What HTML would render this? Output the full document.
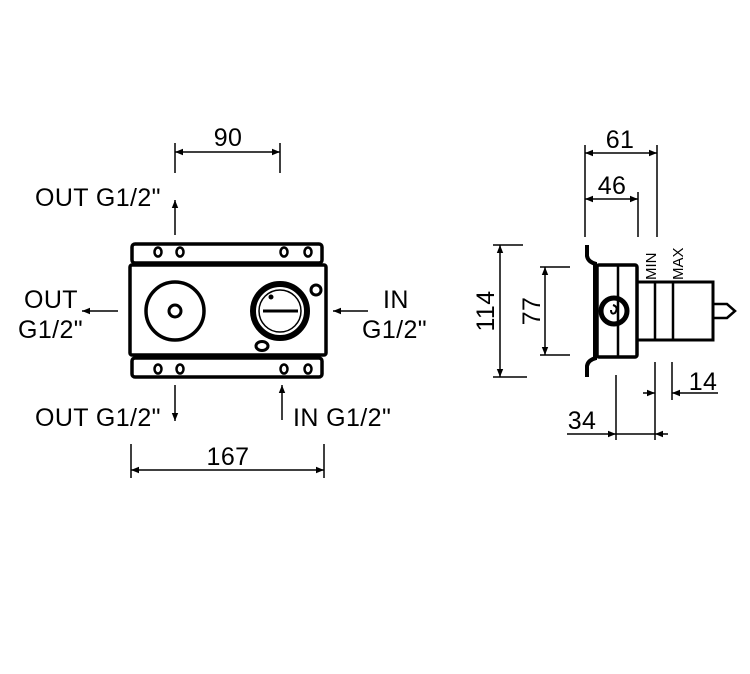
<!DOCTYPE html>
<html><head><meta charset="utf-8"><style>
html,body{margin:0;padding:0;background:#fff;}
svg{display:block;}
text{font-family:"Liberation Sans",Arial,sans-serif;fill:#000;}
</style></head><body>
<svg width="750" height="674" viewBox="0 0 750 674" xmlns="http://www.w3.org/2000/svg">
<defs>
<marker id="a" viewBox="0 0 10 10" refX="10" refY="5" markerWidth="12" markerHeight="8" orient="auto-start-reverse" markerUnits="userSpaceOnUse"><path d="M0,1 L10,5 L0,9 z" fill="#000"/></marker>
</defs>
<g stroke="#000" fill="none">
<rect x="132" y="244" width="190" height="19" rx="3" stroke-width="3.5"/>
<rect x="130" y="265" width="196" height="90" rx="2" stroke-width="3.5"/>
<rect x="132" y="358" width="190" height="19" rx="3" stroke-width="3.5"/>
<g stroke-width="2.5">
<ellipse cx="158" cy="252" rx="3.5" ry="4.5"/><ellipse cx="180" cy="252" rx="3.5" ry="4.5"/><ellipse cx="284" cy="252" rx="3.5" ry="4.5"/><ellipse cx="308" cy="252" rx="3.5" ry="4.5"/>
<ellipse cx="158" cy="369" rx="3.5" ry="4.5"/><ellipse cx="180" cy="369" rx="3.5" ry="4.5"/><ellipse cx="284" cy="369" rx="3.5" ry="4.5"/><ellipse cx="308" cy="369" rx="3.5" ry="4.5"/>
</g>
<circle cx="175" cy="311" r="29" stroke-width="3.5"/>
<circle cx="175" cy="311" r="6" stroke-width="3"/>
<circle cx="280" cy="311" r="27" stroke-width="6"/>
<circle cx="280" cy="311" r="21" stroke-width="1.5"/>
<line x1="263" y1="311" x2="298" y2="311" stroke-width="3"/>
<circle cx="271" cy="297" r="2" fill="#000" stroke-width="1"/>
<circle cx="316" cy="290" r="5" stroke-width="3"/>
<ellipse cx="262" cy="346" rx="6" ry="4.5" stroke-width="3"/>
<g stroke-width="1.5">
<line x1="175" y1="235" x2="175" y2="200" marker-end="url(#a)"/>
<line x1="118" y1="311" x2="82" y2="311" marker-end="url(#a)"/>
<line x1="368" y1="311" x2="333" y2="311" marker-end="url(#a)"/>
<line x1="175" y1="385" x2="175" y2="421" marker-end="url(#a)"/>
<line x1="282" y1="420" x2="282" y2="385" marker-end="url(#a)"/>
<line x1="175" y1="143" x2="175" y2="173"/><line x1="280" y1="143" x2="280" y2="173"/>
<line x1="175" y1="152" x2="280" y2="152" marker-start="url(#a)" marker-end="url(#a)"/>
<line x1="131" y1="444" x2="131" y2="478"/><line x1="324" y1="444" x2="324" y2="478"/>
<line x1="131" y1="470" x2="324" y2="470" marker-start="url(#a)" marker-end="url(#a)"/>
<line x1="493" y1="245" x2="523" y2="245"/><line x1="493" y1="377" x2="527" y2="377"/>
<line x1="500" y1="245" x2="500" y2="377" marker-start="url(#a)" marker-end="url(#a)"/>
<line x1="540" y1="267" x2="570" y2="267"/><line x1="540" y1="355" x2="570" y2="355"/>
<line x1="545" y1="267" x2="545" y2="355" marker-start="url(#a)" marker-end="url(#a)"/>
<line x1="585" y1="145" x2="585" y2="237"/><line x1="657" y1="145" x2="657" y2="237"/><line x1="638" y1="192" x2="638" y2="237"/>
<line x1="585" y1="153" x2="657" y2="153" marker-start="url(#a)" marker-end="url(#a)"/>
<line x1="585" y1="199" x2="638" y2="199" marker-start="url(#a)" marker-end="url(#a)"/>
<line x1="655" y1="362" x2="655" y2="440"/><line x1="672" y1="362" x2="672" y2="400"/><line x1="616" y1="375" x2="616" y2="440"/>
<line x1="643" y1="393" x2="655" y2="393" marker-end="url(#a)"/>
<line x1="718" y1="393" x2="672" y2="393" marker-end="url(#a)"/>
<line x1="567" y1="434" x2="616" y2="434" marker-end="url(#a)"/>
<line x1="668" y1="434" x2="655" y2="434" marker-end="url(#a)"/>
<line x1="616" y1="434" x2="655" y2="434"/>
</g>
<path d="M587,245 L587,256 Q588,262 596,264 M587,377 L587,366 Q588,360 596,358" stroke-width="4"/>
<line x1="595" y1="262" x2="595" y2="360" stroke-width="4"/>
<rect x="597" y="265" width="40" height="92" rx="2" stroke-width="3.5"/>
<line x1="618" y1="265" x2="618" y2="357" stroke-width="2.5"/>
<circle cx="614" cy="311" r="13" stroke-width="5"/>
<path d="M613,305 q6,2 2,8 q-4,2 -4,-3" stroke-width="2"/>
<rect x="637" y="282" width="76" height="58" stroke-width="3"/>
<line x1="655" y1="282" x2="655" y2="340" stroke-width="2.5"/>
<line x1="673" y1="282" x2="673" y2="340" stroke-width="2.5"/>
<path d="M713,304 L727,304 L735,311 L727,318 L713,318" stroke-width="2.5"/>
</g>
<g font-size="25" letter-spacing="0.4">
<text x="35" y="206">OUT G1/2"</text>
<text x="24" y="308">OUT</text>
<text x="18" y="338">G1/2"</text>
<text x="383" y="308">IN</text>
<text x="362" y="338">G1/2"</text>
<text x="35" y="426">OUT G1/2"</text>
<text x="293" y="426">IN G1/2"</text>
<text x="228" y="146" text-anchor="middle">90</text>
<text x="228" y="465" text-anchor="middle">167</text>
<text x="620" y="148" text-anchor="middle">61</text>
<text x="612" y="194" text-anchor="middle">46</text>
<text x="703" y="390" text-anchor="middle">14</text>
<text x="582" y="429" text-anchor="middle">34</text>
<text transform="translate(494,311) rotate(-90)" text-anchor="middle">114</text>
<text transform="translate(540,311) rotate(-90)" text-anchor="middle">77</text>
</g>
<g font-size="15">
<text transform="translate(656,280) rotate(-90)">MIN</text>
<text transform="translate(683,280) rotate(-90)">MAX</text>
</g>
</svg>
</body></html>
